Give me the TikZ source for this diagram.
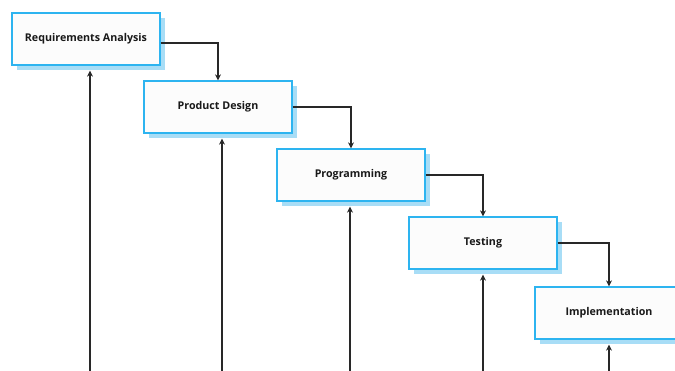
\documentclass[tikz,border=0pt]{standalone}
\usepackage{fontspec}
\setmainfont{Open Sans}
\usetikzlibrary{arrows.meta,calc,shadows}

\definecolor{stageblue}{RGB}{45,180,240}
\definecolor{shadowblue}{RGB}{168,221,246}
\definecolor{stagefill}{RGB}{252,252,252}
\definecolor{linkgray}{RGB}{40,40,40}
\definecolor{textdark}{RGB}{25,25,25}

\begin{document}
\begin{tikzpicture}[x=1pt,y=-1pt,
  stage/.style={draw=stageblue, line width=1.3pt, fill=stagefill,
    minimum width=148pt, minimum height=52pt, inner sep=0pt,
    font=\bfseries\fontsize{10.7}{12}\selectfont, text=textdark,
    general shadow={fill=shadowblue, draw=none, shadow xshift=5pt, shadow yshift=-5pt}},
  flow/.style={draw=linkgray, line width=1.2pt, -{Stealth[length=6pt,width=6pt]}}]

  \clip (0,0) rectangle (675,370);
  \useasboundingbox (0,0) rectangle (675,370);

  % the five phases, stepping down to the right
  \node[stage] (req)  at (86,39)  {Requirements Analysis};
  \node[stage] (des)  at (218,107) {Product Design};
  \node[stage] (prog) at (351,175) {Programming};
  \node[stage] (test) at (483,243) {Testing};
  \node[stage] (impl) at (609,313) {Implementation};

  % cascade from each phase into the next
  \draw[flow] ($(req.east)+(0,4)$) -| (des.north);
  \draw[flow] (des.east) -| (prog.north);
  \draw[flow] (prog.east) -| (test.north);
  \draw[flow] (test.east) -| (impl.north);

  % feedback lines rising from below
  \coordinate (f1) at (90,372);
  \coordinate (f2) at (222,372);
  \coordinate (f3) at (350,372);
  \coordinate (f4) at (483,372);
  \coordinate (f5) at (609,372);
  \draw[flow] (f1) -- ($(req.south)+(4,5)$);
  \draw[flow] (f2) -- ($(des.south)+(4,5)$);
  \draw[flow] (f3) -- ($(prog.south)+(-1,5)$);
  \draw[flow] (f4) -- ($(test.south)+(0,5)$);
  \draw[flow] (f5) -- ($(impl.south)+(0,5)$);
\end{tikzpicture}
\end{document}
